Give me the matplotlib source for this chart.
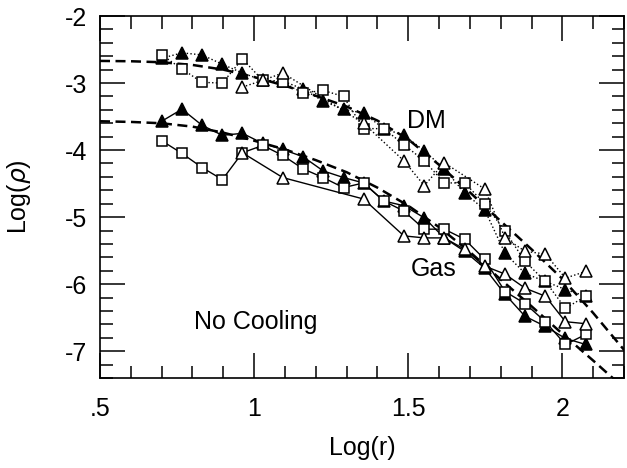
import numpy as np
import matplotlib
matplotlib.use('Agg')
import matplotlib.pyplot as plt
from matplotlib.ticker import MultipleLocator, FixedLocator

plt.rcParams['font.family'] = ['Liberation Sans', 'DejaVu Sans']

# radial bins, log(r)
log_r = [0.70, 0.766, 0.831, 0.897, 0.962, 1.028, 1.093, 1.159, 1.224, 1.290, 1.355,
         1.421, 1.486, 1.552, 1.617, 1.683, 1.748, 1.814, 1.879, 1.945, 2.010, 2.076]

# dark matter profiles (dotted)
dm_tri = [-2.63, -2.55, -2.58, -2.72, -2.85, -2.96, -2.97, -3.09, -3.27, -3.39, -3.45,
          -3.68, -3.78, -4.01, -4.28, -4.64, -4.89, -5.54, -5.84, -5.96, -6.08, -6.18]
dm_sq = [-2.58, -2.79, -2.99, -3.00, -2.64, -2.96, -2.99, -3.15, -3.11, -3.20, -3.68,
         -3.68, -3.92, -4.16, -4.49, -4.49, -4.80, -5.21, -5.66, -5.96, -6.36, -6.18]
dm_otri_idx = [4, 5, 6, 10, 12, 13, 14, 16, 17, 18, 19, 20, 21]
dm_otri = [-3.06, -2.96, -2.85, -3.60, -4.16, -4.53, -4.19, -4.58, -5.31, -5.51,
           -5.55, -5.91, -5.81]

# gas profiles (solid)
gas_tri = [-3.57, -3.39, -3.63, -3.78, -3.75, -3.90, -3.99, -4.10, -4.31, -4.41, -4.49,
           -4.76, -4.83, -5.01, -5.31, -5.51, -5.76, -6.15, -6.48, -6.63, -6.81, -6.90]
gas_sq = [-3.86, -4.05, -4.26, -4.44, -4.04, -3.93, -4.08, -4.28, -4.41, -4.56, -4.49,
          -4.76, -4.91, -5.18, -5.18, -5.33, -5.63, -6.11, -6.29, -6.56, -6.90, -6.75]
gas_otri_idx = [4, 6, 10, 12, 13, 14, 15, 16, 17, 18, 19, 20, 21]
gas_otri = [-4.04, -4.41, -4.73, -5.28, -5.31, -5.31, -5.48, -5.73, -5.85, -6.06,
            -6.18, -6.56, -6.59]

# fitted curves (dashed)
fit_x = [0.5, 0.6, 0.7, 0.8, 0.9, 1.0, 1.1, 1.2, 1.3, 1.4, 1.5, 1.6, 1.7, 1.8, 1.9, 2.0, 2.1, 2.2]
fit_dm = [-2.67, -2.675, -2.69, -2.73, -2.80, -2.91, -3.04, -3.19, -3.35, -3.56, -3.84,
          -4.22, -4.63, -5.06, -5.48, -5.92, -6.43, -6.98]
fit_gas = [-3.57, -3.58, -3.60, -3.65, -3.74, -3.86, -3.99, -4.15, -4.33, -4.56, -4.83,
           -5.15, -5.52, -5.93, -6.33, -6.74, -7.14, -7.55]

fig = plt.figure(figsize=(6.27, 4.68), dpi=100)
ax = fig.add_axes([0.1595, 0.1923, 0.8357, 0.7735])

dash = (0, (4, 2.2))
ax.plot(fit_x, fit_dm, color='k', lw=1.8, ls=dash, zorder=2)
ax.plot(fit_x, fit_gas, color='k', lw=1.8, ls=dash, zorder=2)

x = np.array(log_r)
mk = dict(color='k', mec='k', mew=1.1)
ax.plot(x, dm_tri, ls=':', lw=1, marker='^', ms=8.5, mfc='k', **mk)
ax.plot(x, dm_sq, ls=':', lw=1, marker='s', ms=7.5, mfc='white', **mk)
ax.plot(x[dm_otri_idx], dm_otri, ls=':', lw=1, marker='^', ms=8.5, mfc='white', **mk)
ax.plot(x, gas_tri, ls='-', lw=1, marker='^', ms=8.5, mfc='k', **mk)
ax.plot(x, gas_sq, ls='-', lw=1, marker='s', ms=7.5, mfc='white', **mk)
ax.plot(x[gas_otri_idx], gas_otri, ls='-', lw=1, marker='^', ms=8.5, mfc='white', **mk)

ax.set_xlim(0.5, 2.2)
ax.set_ylim(-7.4, -2)
ax.xaxis.set_major_locator(FixedLocator([0.5, 1, 1.5, 2]))
ax.set_xticklabels(['.5', '1', '1.5', '2'])
ax.xaxis.set_minor_locator(MultipleLocator(0.1))
ax.set_yticks([-2, -3, -4, -5, -6, -7])
ax.set_yticklabels(['-2', '-3', '-4', '-5', '-6', '-7'])
ax.yaxis.set_minor_locator(MultipleLocator(0.2))

ax.tick_params(which='both', direction='in', top=True, right=True, width=1.1, labelsize=18)
ax.tick_params(which='major', length=18, pad=9)
ax.tick_params(which='minor', length=9)
ax.tick_params(axis='x', which='major', pad=14)
for s in ax.spines.values():
    s.set_linewidth(1.2)

ax.set_xlabel('Log(r)', fontsize=18)
ax.set_ylabel(r'Log($\rho$)', fontsize=18)
ax.xaxis.set_label_coords(0.5, -0.16)
ax.yaxis.set_label_coords(-0.128, 0.5)

ax.text(1.558, -3.56, 'DM', fontsize=18, ha='center', va='center')
ax.text(1.581, -5.78, 'Gas', fontsize=18, ha='center', va='center')
ax.text(1.006, -6.57, 'No Cooling', fontsize=18, ha='center', va='center')

fig.savefig('out.png', dpi=100)
